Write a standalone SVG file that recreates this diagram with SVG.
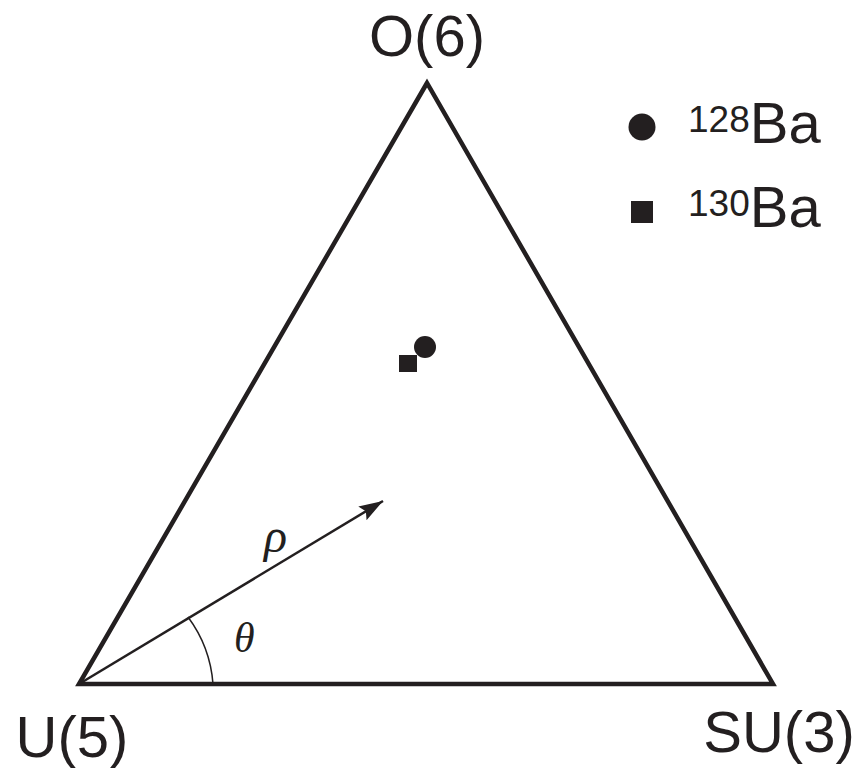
<svg xmlns="http://www.w3.org/2000/svg" width="861" height="768" viewBox="0 0 861 768">
<style>
.lbl{font-family:"Liberation Sans",Arial,sans-serif;font-size:58px;fill:#231f20}
.sup{font-family:"Liberation Sans",Arial,sans-serif;font-size:37px;fill:#231f20}
.gr{font-family:"Liberation Serif","DejaVu Serif",serif;font-style:italic;fill:#231f20}
</style>
<defs>
<marker id="ah2" viewBox="0 0 24 16" refX="24" refY="8" markerWidth="24" markerHeight="16" markerUnits="userSpaceOnUse" orient="auto">
<path d="M0,0 L24,8 L0,16 L4,8 Z" fill="#231f20"/>
</marker>
</defs>
<rect width="861" height="768" fill="#fff"/>
<g id="triangle">
<polygon points="427,83 79,684 773,684" fill="none" stroke="#231f20" stroke-width="4.5" stroke-linejoin="miter"/>
</g>
<g id="connectors">
<line x1="79" y1="684" x2="383" y2="501" stroke="#231f20" stroke-width="2.5" marker-end="url(#ah2)"/>
<path d="M188,617 A128,128 0 0 1 213,684" fill="none" stroke="#231f20" stroke-width="1.5"/>
</g>
<g id="labels">
<text class="lbl" x="427" y="56" text-anchor="middle">O(6)</text>
<text class="lbl" x="72" y="757" text-anchor="middle">U(5)</text>
<text class="lbl" x="779" y="752" text-anchor="middle">SU(3)</text>
<text class="gr" x="264" y="552" font-size="48">ρ</text>
<text class="gr" x="234" y="652" font-size="42">θ</text>
</g>
<g id="data">
<circle cx="425" cy="347" r="11" fill="#231f20"/>
<rect x="399" y="355" width="18" height="17" fill="#231f20"/>
</g>
<g id="legend">
<circle cx="642" cy="127" r="13.5" fill="#231f20"/>
<text x="688" y="143"><tspan class="sup" dy="-11">128</tspan><tspan class="lbl" dy="11">Ba</tspan></text>
<rect x="631" y="201" width="22" height="22" fill="#231f20"/>
<text x="688" y="227"><tspan class="sup" dy="-11">130</tspan><tspan class="lbl" dy="11">Ba</tspan></text>
</g>
</svg>
